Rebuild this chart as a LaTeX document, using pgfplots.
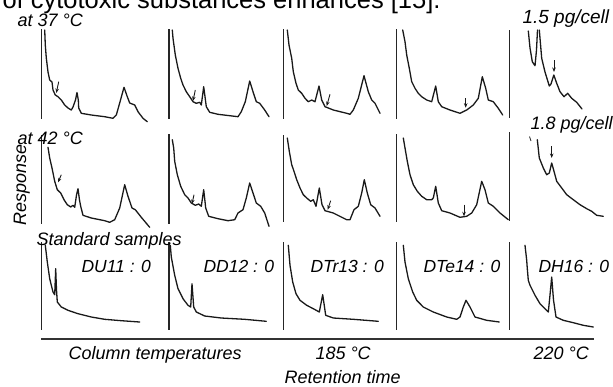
\documentclass[border=0pt]{standalone}
\usepackage{fontspec}
\setmainfont{Liberation Sans}
\usepackage{pgfplots}
\pgfplotsset{compat=1.18}
\usetikzlibrary{arrows.meta}
\newcommand{\lab}{\fontsize{18}{20}\selectfont\itshape}
\begin{document}
\begin{tikzpicture}
\useasboundingbox (0,0) rectangle (613pt,386pt);
\clip (0,0) rectangle (613pt,386pt);
\begin{axis}[at={(0,0)},anchor=south west,width=613pt,height=386pt,scale only axis,
  xmin=0,xmax=613,ymin=0,ymax=386,y dir=reverse,hide axis,clip=false,
  tr/.style={line width=1.3pt,color=black!90,line join=round,line cap=round},
  vl/.style={line width=1.5pt,color=black!85},
  arr/.style={line width=0.9pt,color=black!90,-{Stealth[length=4.5pt,width=3.5pt]}},
  every node/.style={inner sep=0pt,text=black!92}]
% vertical axis lines
\addplot[vl] coordinates {(41.5,29)(41.5,119)};
\addplot[vl] coordinates {(169,29)(169,119)};
\addplot[vl] coordinates {(283.3,29)(283.3,119)};
\addplot[vl] coordinates {(396.3,29)(396.3,119)};
\addplot[vl] coordinates {(509.5,30)(509.5,118)};
\addplot[vl] coordinates {(41.5,135)(41.5,224)};
\addplot[vl] coordinates {(169,134)(169,224)};
\addplot[vl] coordinates {(283.3,135)(283.3,222)};
\addplot[vl] coordinates {(396.3,134)(396.3,222)};
\addplot[vl] coordinates {(509.5,132)(509.5,221)};
\addplot[vl] coordinates {(41.5,242)(41.5,330)};
\addplot[vl] coordinates {(169,242)(169,330)};
\addplot[vl] coordinates {(283.3,242)(283.3,330)};
\addplot[vl] coordinates {(396.3,242)(396.3,330)};
\addplot[vl] coordinates {(509.5,242)(509.5,330)};
\addplot[line width=2pt,color=black!80] coordinates {(41,338.5)(593.5,338.5)};
% row 1 (at 37 C)
\addplot[tr] coordinates {(44.7,30)(45.3,45)(46.3,58)(48,72)(49.7,80)(52,82)(53,90)(55.3,95)(58,96.7)(61.3,100)(64.7,105)(68,108)(71.3,110)(73,107)(75.5,100)(77,92.5)(78.3,100)(78.7,108)(81.3,113.3)(91.3,115)(104.7,116.7)(113,118.3)(116.3,115)(119.7,103)(124,87.3)(127.3,96.7)(129.7,103)(134.7,105)(138,111.7)(143,118.3)(147.3,121.7)};
\addplot[arr] coordinates {(58.7,81.7)(56.3,93)};
\addplot[tr] coordinates {(172.3,30)(173,38.3)(175.3,55)(178,68.3)(180.7,78.3)(183,85)(186.3,91.7)(189.7,96.7)(193,101.7)(196.3,103.3)(199.7,102.3)(201.3,105)(203.7,86.7)(206.3,106.7)(209.7,112.3)(218,114.3)(238,116.7)(241.3,111.7)(245.3,101.7)(249.7,81)(253,91.7)(256.3,101.7)(259.7,103.3)(264.7,110)(269,116.7)};
\addplot[arr] coordinates {(195.3,90)(193,101)};
\addplot[tr] coordinates {(287.3,30)(289,45)(291.7,58.3)(293.3,71.7)(296,83.3)(298.3,90)(301.7,93.3)(305,98.3)(308.3,101.7)(311.7,100)(315,101.7)(319,86)(321.7,100)(325,106.7)(333.3,110)(346.7,113.3)(350,114.3)(353.3,110)(358.3,98.3)(364,75.7)(368.3,91.7)(371.7,100)(375,103.3)(380,113.3)};
\addplot[arr] coordinates {(330,94.3)(326.7,106)};
\addplot[tr] coordinates {(402.7,30)(405,41.7)(406.7,55)(409.3,68.3)(411.7,81.7)(415,88.3)(418.3,93.3)(421.7,96.7)(426.7,100)(431.7,101.7)(435.7,86)(438.3,101.7)(441.7,106.7)(450,110)(460,113.3)(466.7,110)(473.3,105)(478.3,98.3)(482.3,76.7)(485.7,88.3)(488.3,100)(493.3,101.7)(498.3,108.3)(502.7,115)};
\addplot[arr] coordinates {(465.7,98.3)(465.7,107.7)};
\addplot[tr] coordinates {(528.3,31)(530,48)(532.3,61.7)(535,65.7)(536.5,50)(537.5,30)};
\addplot[tr] coordinates {(539.3,30)(541.7,58.3)(545,72)(549.3,86)(551,84)(553.8,75)(556.7,83.3)(560,91.7)(564,96.7)(567.7,93.3)(571.7,98.3)(576.7,102.3)(582,109)};
\addplot[arr] coordinates {(554,60)(554,72)};
% row 2 (at 42 C)
\addplot[tr] coordinates {(48,147.3)(49.7,158)(52,168)(54.7,181.3)(57.3,189.7)(60.7,193)(64,199.7)(67.3,204.7)(70.7,207)(73,205.3)(74.7,207.3)(76.5,195)(78,188.7)(79.5,200)(80.7,206.3)(83,215.3)(91.3,218)(104.7,220.7)(109.7,222.3)(114.7,219.7)(119.7,208)(124.7,184.7)(128,196.3)(132,208)(135.3,209.7)(141.3,217.3)(149.7,227.3)};
\addplot[arr] coordinates {(61.3,174.7)(58,182.5)};
\addplot[tr] coordinates {(172.3,139.7)(173.7,148)(174.7,161.3)(177.3,174.7)(180.7,186.3)(184.7,194.7)(188,198)(191.3,203)(195.3,205.3)(198.7,204)(201.3,206.3)(203.7,189.7)(205.7,208)(208.7,216.3)(218,218.7)(228,220.7)(234.7,219.7)(238,213)(243,209.7)(246.3,198)(249.7,183)(253,193)(256.3,203)(260.7,206.3)(264.7,213)(269,226.3)};
\addplot[arr] coordinates {(194,194.7)(192,204)};
\addplot[tr] coordinates {(287.3,138)(289.3,151.3)(291.7,164.7)(294,171.3)(296.7,179.7)(300,188)(303.3,194.7)(306.7,198)(310.7,201.3)(313.3,199.7)(316,206.3)(319.3,188)(322,204.7)(325,210.7)(333.3,213)(346.7,219.7)(350,219.7)(354,209.7)(358.3,206.3)(361.7,193)(364.3,179.7)(367.3,193)(370.7,204.7)(375,208)(380,216.3)};
\addplot[arr] coordinates {(330.7,200.7)(327.7,209.7)};
\addplot[tr] coordinates {(403.3,138)(405,148)(407.3,161.3)(410,174.7)(413.3,184.7)(417.3,191.3)(421.7,196.3)(426.7,199.7)(431.7,199.7)(433.3,198)(435.7,186.3)(438.3,203)(441.7,210.7)(450,213)(460,217.3)(466.7,216.3)(471.7,213)(476.7,204.7)(481.7,181.3)(485,189.7)(488.3,203)(493.3,206.3)(500,213)(508.3,219.7)};
\addplot[arr] coordinates {(464,204.7)(464,216.3)};
\addplot[tr] coordinates {(537.3,139.7)(539.3,158)(543.3,168)(546.7,174.7)(549.3,173)(551.7,163)(554,171.3)(556.7,181.3)(561.7,188)(566.7,194.7)(573.3,199.7)(580,204.7)(586.7,208.7)(591.7,211.3)(596.7,215.3)(603.3,216.3)};
\addplot[arr] coordinates {(551.7,146.3)(551.7,158)};
\addplot[line width=0.9pt,color=black!80] coordinates {(529.5,136.5)(531,141)};
% row 3 (standard samples)
\addplot[tr] coordinates {(45.3,245.3)(47.3,262)(49.7,278.7)(53,292)(54.7,294.7)(55.7,268.7)(56.5,290)(57.3,302)(61.3,307)(68,310.3)(78,313.7)(91.3,317)(104.7,319.3)(121.3,320.7)(139.7,322)};
\addplot[tr] coordinates {(170.3,245.3)(171.3,257)(174.7,275.3)(178,288.7)(183,298.7)(188,305.3)(190.7,307)(192,283.7)(193.7,307)(196.3,312)(204.7,316)(221.3,318)(244.7,319.3)(266.3,321.3)};
\addplot[tr] coordinates {(288.3,245.3)(290,265.3)(292.7,282)(296,293.7)(300,300.3)(306.7,305.3)(313.3,308.7)(319.3,312)(322.7,294.7)(325.7,315.3)(333.3,318)(353.3,319.3)(378.3,321.3)};
\addplot[tr] coordinates {(403.3,245.3)(405,262)(408.3,278.7)(412.7,292)(416.7,300.3)(423.3,307)(433.3,312)(446.7,317)(456.7,319.3)(460,317)(463.3,307)(466,300.3)(470,307)(475,317)(486.7,320.3)(499.3,322)};
\addplot[tr] coordinates {(525,245.3)(526.7,260.3)(527.3,268.7)(528.3,280.3)(530,285.3)(535,295.3)(540,303.7)(545,308.7)(548.3,312)(550,295)(551.7,277)(553.5,300)(556,317)(563.3,320.3)(573.3,322.7)(583.3,325.3)(593.3,327)};
% texts
\node[anchor=base west] at (axis cs:-1,8) {\fontsize{25.5}{28}\selectfont of cytotoxic substances enhances [15].};
\node[anchor=base west] at (axis cs:14,26.5) {\lab at 37 °C};
\node[anchor=base west] at (axis cs:519,23.5) {\fontsize{19}{21}\selectfont\itshape 1.5 pg/cell};
\node[anchor=base west] at (axis cs:14,144.5) {\lab at 42 °C};
\node[anchor=base west] at (axis cs:527,129.5) {\lab 1.8 pg/cell};
\node[anchor=base,rotate=90] at (axis cs:26,185) {\lab Response};
\node[anchor=base west] at (axis cs:33,245) {\lab Standard samples};
\node[anchor=base west] at (axis cs:78,272.5) {\fontsize{17.5}{20}\selectfont\itshape DU11 : 0};
\node[anchor=base west] at (axis cs:200,272.5) {\fontsize{17.5}{20}\selectfont\itshape DD12 : 0};
\node[anchor=base west] at (axis cs:307,272.5) {\fontsize{17.5}{20}\selectfont\itshape DTr13 : 0};
\node[anchor=base west] at (axis cs:420,272.5) {\fontsize{17.5}{20}\selectfont\itshape DTe14 : 0};
\node[anchor=base west] at (axis cs:535,272.5) {\fontsize{17.5}{20}\selectfont\itshape DH16 : 0};
\node[anchor=base west] at (axis cs:65,359) {\lab Column temperatures};
\node[anchor=base west] at (axis cs:312,359) {\lab 185 °C};
\node[anchor=base west] at (axis cs:530,359) {\lab 220 °C};
\node[anchor=base west] at (axis cs:281,383) {\lab Retention time};
\end{axis}
\end{tikzpicture}
\end{document}
